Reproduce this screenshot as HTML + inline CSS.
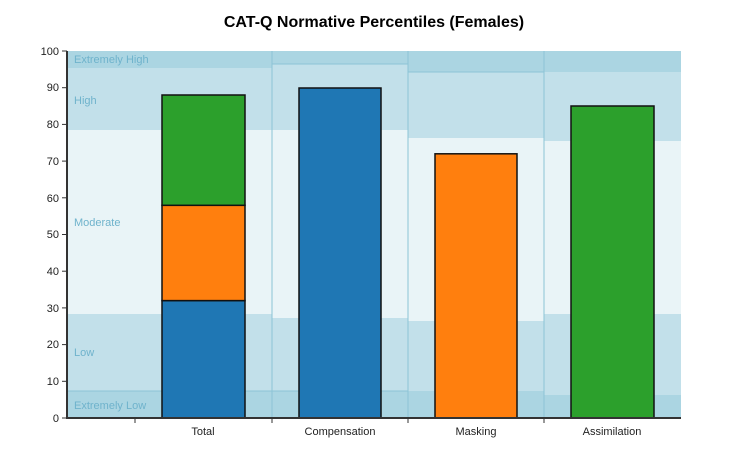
<!DOCTYPE html>
<html><head><style>body{margin:0;background:#fff}</style></head><body>
<svg width="749" height="461" xmlns="http://www.w3.org/2000/svg" font-family="Liberation Sans, sans-serif">
<rect width="749" height="461" fill="#fff"/>
<text x="374" y="27" text-anchor="middle" font-size="16" font-weight="bold" fill="#000">CAT-Q Normative Percentiles (Females)</text>
<!-- Total section 67-272 -->
<g>
<rect x="67" y="51" width="205" height="17" fill="#abd5e2"/>
<rect x="67" y="68" width="205" height="62" fill="#c2e0ea"/>
<rect x="67" y="130" width="205" height="184" fill="#e9f4f7"/>
<rect x="67" y="314" width="205" height="77" fill="#c2e0ea"/>
<rect x="67" y="391" width="205" height="27" fill="#abd5e2"/>
<line x1="67" x2="272" y1="391" y2="391" stroke="#8cc4d6" stroke-width="1"/>
</g>
<g>
<rect x="272" y="51" width="136" height="13" fill="#abd5e2"/>
<rect x="272" y="64" width="136" height="66" fill="#c2e0ea"/>
<rect x="272" y="130" width="136" height="188" fill="#e9f4f7"/>
<rect x="272" y="318" width="136" height="73" fill="#c2e0ea"/>
<rect x="272" y="391" width="136" height="27" fill="#abd5e2"/>
<line x1="272" x2="408" y1="64" y2="64" stroke="#8cc4d6"/>
<line x1="272" x2="408" y1="391" y2="391" stroke="#8cc4d6"/>
</g>
<g>
<rect x="408" y="51" width="136" height="21" fill="#abd5e2"/>
<rect x="408" y="72" width="136" height="66" fill="#c2e0ea"/>
<rect x="408" y="138" width="136" height="183" fill="#e9f4f7"/>
<rect x="408" y="321" width="136" height="70" fill="#c2e0ea"/>
<rect x="408" y="391" width="136" height="27" fill="#abd5e2"/>
<line x1="408" x2="544" y1="72" y2="72" stroke="#8cc4d6"/>
</g>
<g>
<rect x="544" y="51" width="137" height="21" fill="#abd5e2"/>
<rect x="544" y="72" width="137" height="69" fill="#c2e0ea"/>
<rect x="544" y="141" width="137" height="173" fill="#e9f4f7"/>
<rect x="544" y="314" width="137" height="81" fill="#c2e0ea"/>
<rect x="544" y="395" width="137" height="23" fill="#abd5e2"/>
</g>
<g stroke="#8cc4d6" stroke-width="1">
<line x1="272" x2="272" y1="51" y2="418"/>
<line x1="408" x2="408" y1="51" y2="418"/>
<line x1="544" x2="544" y1="51" y2="418"/>
</g>
<g font-size="11" fill="#6fb3cc">
<text x="74" y="63">Extremely High</text>
<text x="74" y="104">High</text>
<text x="74" y="226">Moderate</text>
<text x="74" y="356">Low</text>
<text x="74" y="409">Extremely Low</text>
</g>
<g stroke="#111" stroke-width="1.5">
<rect x="162" y="300.6" width="83" height="117.4" fill="#1f77b4"/>
<rect x="162" y="205.3" width="83" height="95.3" fill="#ff7f0e"/>
<rect x="162" y="95" width="83" height="110.3" fill="#2ca02c"/>
<rect x="299" y="88" width="82" height="330" fill="#1f77b4"/>
<rect x="435" y="153.8" width="82" height="264.2" fill="#ff7f0e"/>
<rect x="571" y="106" width="83" height="312" fill="#2ca02c"/>
</g>
<g stroke="#333" stroke-width="2">
<line x1="67" x2="67" y1="51" y2="419"/>
<line x1="66" x2="681" y1="418" y2="418"/>
</g>
<g stroke="#333" stroke-width="1">
<line x1="62" x2="67" y1="418" y2="418"/><line x1="62" x2="67" y1="381.3" y2="381.3"/>
<line x1="62" x2="67" y1="344.6" y2="344.6"/><line x1="62" x2="67" y1="307.9" y2="307.9"/>
<line x1="62" x2="67" y1="271.2" y2="271.2"/><line x1="62" x2="67" y1="234.5" y2="234.5"/>
<line x1="62" x2="67" y1="197.8" y2="197.8"/><line x1="62" x2="67" y1="161.1" y2="161.1"/>
<line x1="62" x2="67" y1="124.4" y2="124.4"/><line x1="62" x2="67" y1="87.7" y2="87.7"/>
<line x1="62" x2="67" y1="51" y2="51"/>
<line x1="135" x2="135" y1="418" y2="423"/><line x1="272" x2="272" y1="418" y2="423"/>
<line x1="408" x2="408" y1="418" y2="423"/><line x1="544" x2="544" y1="418" y2="423"/>
</g>
<g font-size="11" fill="#222" text-anchor="end">
<text x="59" y="422">0</text><text x="59" y="385">10</text><text x="59" y="348">20</text>
<text x="59" y="312">30</text><text x="59" y="275">40</text><text x="59" y="238">50</text>
<text x="59" y="202">60</text><text x="59" y="165">70</text><text x="59" y="128">80</text>
<text x="59" y="91">90</text><text x="59" y="55">100</text>
</g>
<g font-size="11" fill="#222" text-anchor="middle">
<text x="203" y="435">Total</text><text x="340" y="435">Compensation</text>
<text x="476" y="435">Masking</text><text x="612" y="435">Assimilation</text>
</g>
</svg>
</body></html>
